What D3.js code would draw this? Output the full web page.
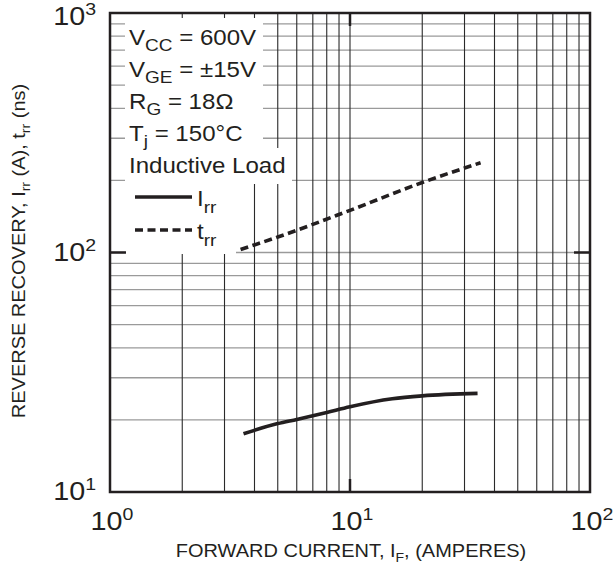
<!DOCTYPE html>
<html>
<head>
<meta charset="utf-8">
<script src="https://cdn.jsdelivr.net/npm/d3@7"></script>
<style>
  body { margin: 0; background: #fff; }
  svg text { font-family: "Liberation Sans", Arial, Helvetica, sans-serif; fill: #231f20; }
</style>
</head>
<body>
<svg id="chart" width="613" height="571"></svg>
<script>
// decades on both axes and their exponent labels
const xDecades = [1, 10, 100];
const xExponents = ['0', '1', '2'];
const yDecades = [10, 100, 1000];
const yExponents = ['1', '2', '3'];

// curves: [forward current A, value]
const irrData = [[3.6, 17.5], [5, 19.3], [6, 20.1], [8, 21.5], [10, 22.7], [15, 24.5], [20, 25.2], [34, 25.8]];
const trrData = [[3.5, 103], [5, 116], [10, 150], [20, 196], [35, 237]];

// test conditions: [main, subscript, rest]
const conditions = [
  ['V', 'CC', ' = 600V'],
  ['V', 'GE', ' = \u00b115V'],
  ['R', 'G', ' = 18\u03a9'],
  ['T', 'j', ' = 150\u00b0C'],
  ['Inductive Load', '', '']
];
const legendItems = [
  { main: 'I', sub: 'rr', dash: null },
  { main: 't', sub: 'rr', dash: '8,4.5' }
];

const width = 613, height = 571;
const margin = { top: 13, right: 23, bottom: 79, left: 110 };
const ink = '#231f20';

const svg = d3.select('#chart');

const x = d3.scaleLog().domain([1, 100]).range([margin.left, width - margin.right]);
const y = d3.scaleLog().domain([10, 1000]).range([height - margin.bottom, margin.top]);

// the original type is a bit wider than Liberation Sans, so stretch it
function wideText(parent, tx, ty, size, sx, anchor, rotate) {
  const g = parent.append('g')
    .attr('transform', `translate(${tx},${ty})` + (rotate ? ` rotate(${rotate})` : '') + ` scale(${sx},1)`);
  return g.append('text')
    .attr('text-anchor', anchor || 'start')
    .attr('font-size', size);
}

// all 1..9 multiples in each decade
const minorX = [];
for (let d = 1; d < 100; d *= 10) for (let k = 2; k <= 9; k++) minorX.push(d * k);
minorX.push(10);
const minorY = [];
for (let d = 10; d < 1000; d *= 10) for (let k = 2; k <= 9; k++) minorY.push(d * k);
minorY.push(100);

const grid = svg.append('g');
grid.selectAll('line.h')
  .data(minorY)
  .enter().append('line')
  .attr('class', 'h')
  .attr('x1', x.range()[0]).attr('x2', x.range()[1])
  .attr('y1', d => y(d)).attr('y2', d => y(d))
  .attr('stroke', '#9a9a9a')
  .attr('stroke-width', 1.3);
grid.selectAll('line.v')
  .data(minorX)
  .enter().append('line')
  .attr('class', 'v')
  .attr('y1', y.range()[0]).attr('y2', y.range()[1])
  .attr('x1', d => x(d)).attr('x2', d => x(d))
  .attr('stroke', '#2a2a2a')
  .attr('stroke-width', 1.1);

// white panel behind the conditions and legend
const panel = svg.append('g').attr('fill', '#fff');
panel.append('rect').attr('x', 125).attr('y', 18).attr('width', 138).attr('height', 132);
panel.append('rect').attr('x', 125).attr('y', 148).attr('width', 167).attr('height', 36);
panel.append('rect').attr('x', 125).attr('y', 184).attr('width', 111).attr('height', 70);

// major tick stubs
const stubs = svg.append('g').attr('stroke', ink).attr('stroke-width', 2.5);
stubs.append('line')
  .attr('x1', x(10)).attr('x2', x(10))
  .attr('y1', y.range()[0]).attr('y2', y.range()[0] - 13);
stubs.append('line')
  .attr('x1', x(10)).attr('x2', x(10))
  .attr('y1', y.range()[1]).attr('y2', y.range()[1] + 13);
stubs.append('line')
  .attr('x1', x.range()[0]).attr('x2', x.range()[0] + 16)
  .attr('y1', y(100)).attr('y2', y(100));
stubs.append('line')
  .attr('x1', x.range()[1]).attr('x2', x.range()[1] - 16)
  .attr('y1', y(100)).attr('y2', y(100));

// frame
svg.append('rect')
  .attr('x', margin.left).attr('y', margin.top)
  .attr('width', x.range()[1] - margin.left)
  .attr('height', y.range()[0] - margin.top)
  .attr('fill', 'none')
  .attr('stroke', ink)
  .attr('stroke-width', 2.5);

// curves
const line = d3.line()
  .x(d => x(d[0]))
  .y(d => y(d[1]))
  .curve(d3.curveMonotoneX);

svg.append('path')
  .datum(irrData)
  .attr('d', line)
  .attr('fill', 'none')
  .attr('stroke', ink)
  .attr('stroke-width', 3.6);
svg.append('path')
  .datum(trrData)
  .attr('d', line)
  .attr('fill', 'none')
  .attr('stroke', ink)
  .attr('stroke-width', 3.6)
  .attr('stroke-dasharray', '8,4.5');

// tick labels
xDecades.forEach((v, i) => {
  const t = wideText(svg, x(v) + 2, 530, 25, 1.15, 'middle');
  t.append('tspan').text('10');
  t.append('tspan').attr('font-size', 17).attr('dy', -10).text(xExponents[i]);
});
yDecades.forEach((v, i) => {
  const t = wideText(svg, 96, Math.max(y(v) + 8, 25), 25, 1.15, 'end');
  t.append('tspan').text('10');
  t.append('tspan').attr('font-size', 17).attr('dy', -10).text(yExponents[i]);
});

// conditions block
conditions.forEach((c, i) => {
  const t = wideText(svg, 129, 45 + i * 32, 21.5, 1.12);
  t.append('tspan').text(c[0]);
  if (c[1]) {
    t.append('tspan').attr('font-size', 17).attr('dy', 6).text(c[1]);
    t.append('tspan').attr('dy', -6).text(c[2]);
  }
});

// legend
legendItems.forEach((d, i) => {
  const ly = 197 + i * 33;
  const l = svg.append('line')
    .attr('x1', 135).attr('x2', 192)
    .attr('y1', ly).attr('y2', ly)
    .attr('stroke', ink)
    .attr('stroke-width', 3.6);
  if (d.dash) l.attr('stroke-dasharray', d.dash);
  const t = wideText(svg, 197, ly + 9, 21.5, 1.12);
  t.append('tspan').text(d.main);
  t.append('tspan').attr('font-size', 17).attr('dy', 7).text(d.sub);
});

// axis titles
const xt = wideText(svg, 351, 557, 18.5, 1.08, 'middle');
xt.append('tspan').text('FORWARD CURRENT, I');
xt.append('tspan').attr('font-size', 13).attr('dy', 5).text('F');
xt.append('tspan').attr('dy', -5).text(', (AMPERES)');

const yt = wideText(svg, 25, 251, 18.5, 1.08, 'middle', -90);
yt.append('tspan').text('REVERSE RECOVERY, I');
yt.append('tspan').attr('font-size', 13).attr('dy', 5).text('rr');
yt.append('tspan').attr('dy', -5).text(' (A), t');
yt.append('tspan').attr('font-size', 13).attr('dy', 5).text('rr');
yt.append('tspan').attr('dy', -5).text(' (ns)');
</script>
</body>
</html>
